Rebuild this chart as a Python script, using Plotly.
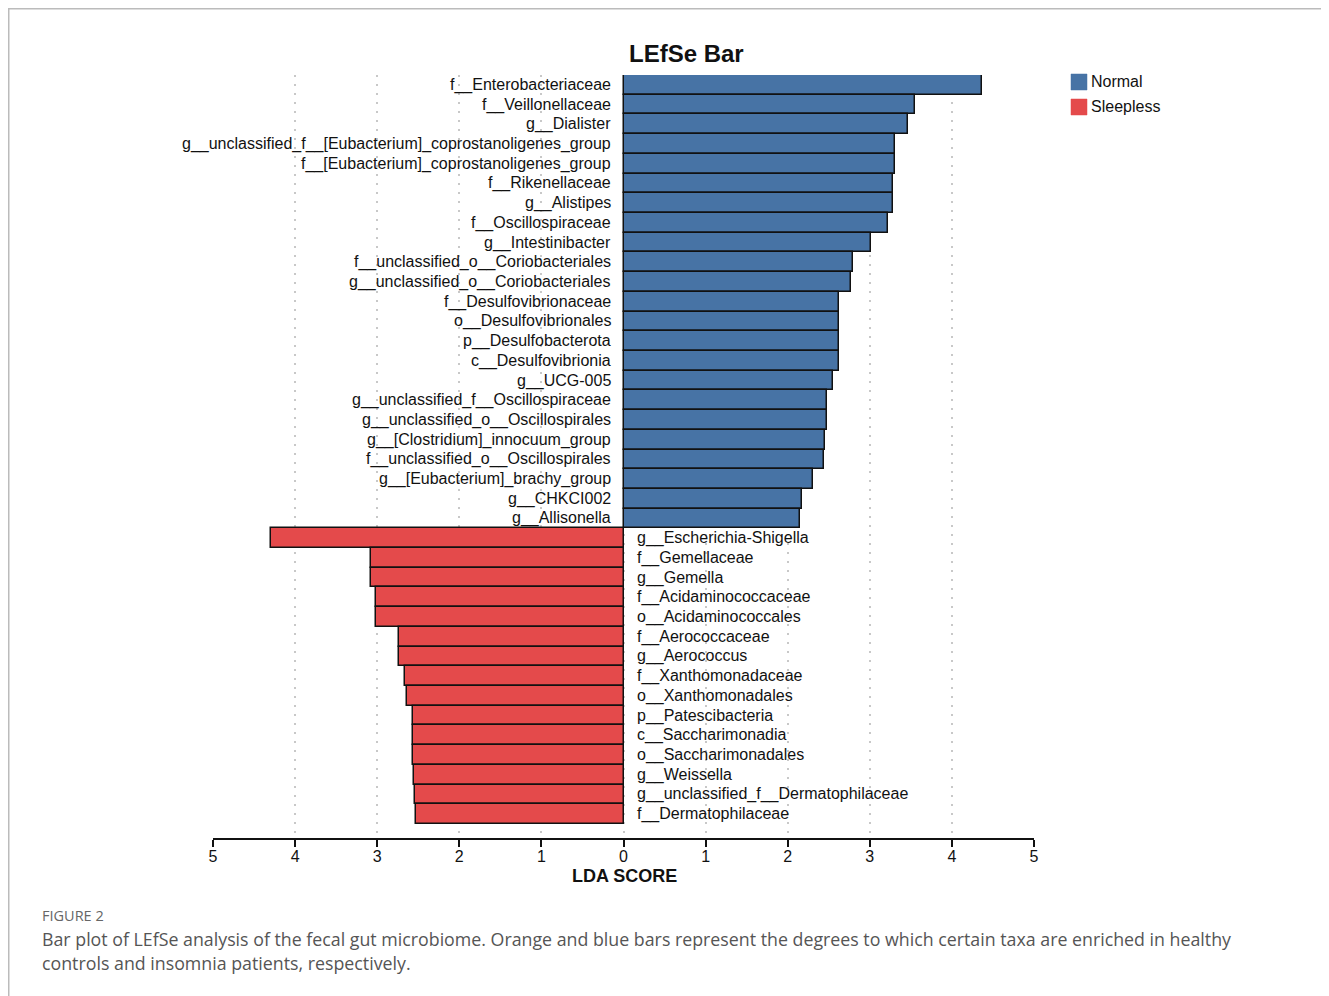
import plotly.graph_objects as go

# ---- data ----
groups = ["Normal", "Sleepless"]

normal_taxa = [
    "f__Enterobacteriaceae", "f__Veillonellaceae", "g__Dialister",
    "g__unclassified_f__[Eubacterium]_coprostanoligenes_group",
    "f__[Eubacterium]_coprostanoligenes_group", "f__Rikenellaceae", "g__Alistipes",
    "f__Oscillospiraceae", "g__Intestinibacter", "f__unclassified_o__Coriobacteriales",
    "g__unclassified_o__Coriobacteriales", "f__Desulfovibrionaceae", "o__Desulfovibrionales",
    "p__Desulfobacterota", "c__Desulfovibrionia", "g__UCG-005",
    "g__unclassified_f__Oscillospiraceae", "g__unclassified_o__Oscillospirales",
    "g__[Clostridium]_innocuum_group", "f__unclassified_o__Oscillospirales",
    "g__[Eubacterium]_brachy_group", "g__CHKCI002", "g__Allisonella",
]
normal_lda = [4.37, 3.55, 3.47, 3.31, 3.31, 3.28, 3.28, 3.22, 3.02, 2.80, 2.77,
              2.62, 2.62, 2.62, 2.62, 2.55, 2.48, 2.48, 2.45, 2.44, 2.31, 2.18, 2.15]

sleepless_taxa = [
    "g__Escherichia-Shigella", "f__Gemellaceae", "g__Gemella", "f__Acidaminococcaceae",
    "o__Acidaminococcales", "f__Aerococcaceae", "g__Aerococcus", "f__Xanthomonadaceae",
    "o__Xanthomonadales", "p__Patescibacteria", "c__Saccharimonadia", "o__Saccharimonadales",
    "g__Weissella", "g__unclassified_f__Dermatophilaceae", "f__Dermatophilaceae",
]
sleepless_lda = [4.29, 3.08, 3.08, 3.02, 3.02, 2.73, 2.73, 2.66, 2.64, 2.56, 2.56,
                 2.56, 2.55, 2.54, 2.53]

tick_vals = [-5, -4, -3, -2, -1, 0, 1, 2, 3, 4, 5]
tick_text = ["5", "4", "3", "2", "1", "0", "1", "2", "3", "4", "5"]

BLUE = "#4773a5"
RED = "#e44a4b"
FONT = "Liberation Sans, Arial, sans-serif"
CAP = "Open Sans, Lato, sans-serif"

# plot area geometry (pixels in the photographed page; page body adds 8px offset)
PL, PT, PW, PH = 213, 75, 821, 763
OFF = 8


def px(x):
    return (x - PL) / PW


def py(y):
    return 1 - (y - PT) / PH


n_total = len(normal_taxa) + len(sleepless_taxa)
positions = list(range(n_total - 1, -1, -1))
pos_normal = positions[:len(normal_taxa)]
pos_sleep = positions[len(normal_taxa):]

fig = go.Figure()
fig.add_trace(go.Bar(
    name=groups[0], x=normal_lda, y=pos_normal, orientation="h",
    marker=dict(color=BLUE, line=dict(color="#111111", width=1.5)),
    width=1, hoverinfo="x+text", hovertext=normal_taxa, showlegend=False,
))
fig.add_trace(go.Bar(
    name=groups[1], x=[-v for v in sleepless_lda], y=pos_sleep, orientation="h",
    marker=dict(color=RED, line=dict(color="#111111", width=1.5)),
    width=1, hoverinfo="text", hovertext=sleepless_taxa, showlegend=False,
))

annotations = []
for name, p in zip(normal_taxa, pos_normal):
    annotations.append(dict(x=0, y=p, xref="x", yref="y", text=name, showarrow=False,
                            xanchor="right", yanchor="middle", xshift=-11,
                            font=dict(family=FONT, size=16, color="#111111")))
for name, p in zip(sleepless_taxa, pos_sleep):
    annotations.append(dict(x=0, y=p, xref="x", yref="y", text=name, showarrow=False,
                            xanchor="left", yanchor="middle", xshift=11,
                            font=dict(family=FONT, size=16, color="#111111")))

# Title and axis title
annotations.append(dict(x=px(686), y=py(54), xref="paper", yref="paper",
                        text="<b>LEfSe Bar</b>", showarrow=False, xanchor="center", yanchor="middle",
                        font=dict(family=FONT, size=24, color="#111111")))
annotations.append(dict(x=px(624), y=py(876), xref="paper", yref="paper",
                        text="<b>LDA SCORE</b>", showarrow=False, xanchor="center", yanchor="middle",
                        font=dict(family=FONT, size=18, color="#111111")))

# Legend (group swatches + names)
shapes = []
for i, (g, c) in enumerate(zip(groups, [BLUE, RED])):
    yc = 82 + 25 * i
    shapes.append(dict(type="rect", xref="paper", yref="paper",
                       x0=px(1071), x1=px(1087), y0=py(yc + 8), y1=py(yc - 8),
                       fillcolor=c, line=dict(color=c, width=0.5)))
    annotations.append(dict(x=px(1089), y=py(yc), xref="paper", yref="paper", text=g,
                            showarrow=False, xanchor="left", yanchor="middle",
                            font=dict(family=FONT, size=16, color="#111111")))

# Caption
annotations.append(dict(x=px(40), y=py(915), xref="paper", yref="paper",
                        text="FIGURE 2", showarrow=False, xanchor="left", yanchor="middle",
                        font=dict(family=CAP, size=14.5, color="#666666")))
annotations.append(dict(x=px(40), y=py(939), xref="paper", yref="paper",
                        text="Bar plot of LEfSe analysis of the fecal gut microbiome. Orange and blue bars represent the degrees to which certain taxa are enriched in healthy",
                        showarrow=False, xanchor="left", yanchor="middle",
                        font=dict(family=CAP, size=17.8, color="#555555")))
annotations.append(dict(x=px(40), y=py(963), xref="paper", yref="paper",
                        text="controls and insomnia patients, respectively.",
                        showarrow=False, xanchor="left", yanchor="middle",
                        font=dict(family=CAP, size=17.8, color="#555555")))

# page frame (top and left edges visible)
shapes.append(dict(type="rect", xref="paper", yref="paper",
                   x0=px(OFF + 0.75), x1=px(1345), y0=py(1020), y1=py(OFF + 0.75),
                   line=dict(color="#bbbbbb", width=1.5), layer="below"))

fig.update_layout(
    width=1329, height=996,
    margin=dict(l=PL - OFF, r=1329 - (PL - OFF) - PW, t=PT - OFF, b=996 - (PT - OFF) - PH),
    paper_bgcolor="white", plot_bgcolor="white",
    barmode="overlay", bargap=0,
    showlegend=False,
    xaxis=dict(range=[-5, 5], tickvals=tick_vals, ticktext=tick_text,
               showgrid=True, gridcolor="#c8c8c8", gridwidth=2, griddash="2px,7px",
               zeroline=False, showline=True, linecolor="#111111", linewidth=2,
               ticks="outside", ticklen=7, tickwidth=2, tickcolor="#111111",
               ticklabelstandoff=-4,
               tickfont=dict(family=FONT, size=16, color="#111111"), fixedrange=True),
    yaxis=dict(range=[-1.21, 37.5], showticklabels=False, showgrid=False, zeroline=False,
               showline=False, ticks=""),
    annotations=annotations,
    shapes=shapes,
)

fig.write_html("out.html")
